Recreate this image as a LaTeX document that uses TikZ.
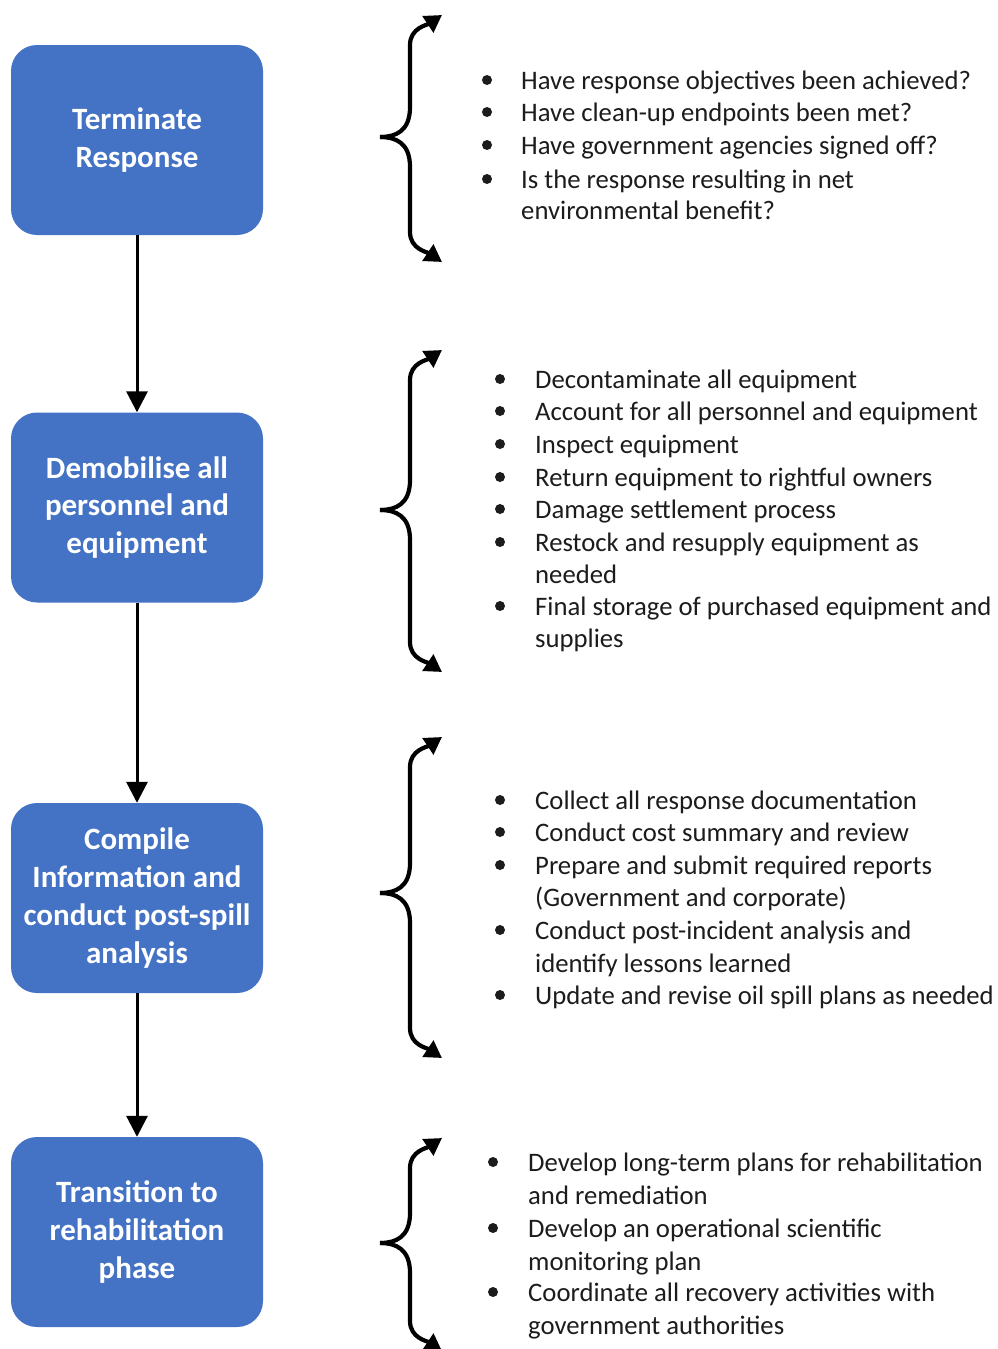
\documentclass[tikz,border=0pt]{standalone}
\usepackage{fontspec}
\setmainfont{Carlito}
\usetikzlibrary{arrows.meta}

\definecolor{stepblue}{RGB}{68,114,196}
\definecolor{bodytext}{RGB}{28,28,28}

% curly bracket with an arrow at each end: name, top y, tip y, bottom y
\newcommand\arrowbrace[4]{%
  \coordinate (#1-top) at (442,#2);
  \coordinate (#1-tip) at (380,#3);
  \coordinate (#1-bot) at (442,#4);
  \draw[bracepen] (#1-tip) .. controls (396,#3) and (410,{#3-6}) .. (410,{#3-30})
        -- (410,{#2+30}) .. controls (410,{#2+13}) and (427,{#2+10}) .. (#1-top);
  \draw[bracepen] (#1-tip) .. controls (396,#3) and (410,{#3+6}) .. (410,{#3+30})
        -- (410,{#4-30}) .. controls (410,{#4-13}) and (427,{#4-10}) .. (#1-bot);
}

\begin{document}
\begin{tikzpicture}[x=1pt,y=-1pt,
  stepbox/.style={rectangle, rounded corners=26pt, fill=stepblue, draw=none,
    minimum width=252pt, minimum height=190pt, text=white, align=center,
    font=\fontsize{31}{37.8}\selectfont\bfseries},
  flow/.style={line width=3pt, -{Triangle[width=21pt,length=21pt]}},
  bracepen/.style={line width=4.2pt, -{Triangle[width=19pt,length=17pt]}},
  itemtext/.style={anchor=base west, inner sep=0pt, text=bodytext,
    font=\fontsize{26.7}{32.6}\selectfont},
  dot/.style={circle, fill=bodytext, inner sep=0pt, minimum size=10pt}]

\useasboundingbox (0,0) rectangle (998,1349);
\fill[white] (0,0) rectangle (998,1349);

% process steps
\node[stepbox] (s1) at (137,140)   {Terminate\\Response};
\node[stepbox] (s2) at (137,507.5) {Demobilise all\\personnel and\\equipment};
\node[stepbox] (s3) at (137,898)   {Compile\\Information and\\conduct post-spill\\analysis};
\node[stepbox] (s4) at (137,1232)  {Transition to\\rehabilitation\\phase};

\draw[flow] (s1) -- (s2);
\draw[flow] (s2) -- (s3);
\draw[flow] (s3) -- (s4);

% brackets
\arrowbrace{k1}{15}{137}{262}
\arrowbrace{k2}{350}{510}{672}
\arrowbrace{k3}{737}{893}{1058}
\arrowbrace{k4}{1138}{1243}{1351}

% checklist 1
\foreach [count=\i] \y/\b/\t in {
  80/1/{Have response objectives been achieved?},
  112/1/{Have clean-up endpoints been met?},
  145/1/{Have government agencies signed off?},
  179/1/{Is the response resulting in net},
  210/0/{environmental benefit?}} {
  \node[itemtext] (a\i) at (521,{\y+9}) {\t};
  \ifnum\b=1 \node[dot] (ad\i) at (487,\y) {}; \fi
}

% checklist 2
\foreach [count=\i] \y/\b/\t in {
  379/1/{Decontaminate all equipment},
  411/1/{Account for all personnel and equipment},
  444/1/{Inspect equipment},
  477/1/{Return equipment to rightful owners},
  509/1/{Damage settlement process},
  542/1/{Restock and resupply equipment as},
  574/0/{needed},
  606/1/{Final storage of purchased equipment and},
  638/0/{supplies}} {
  \node[itemtext] (b\i) at (535,{\y+9}) {\t};
  \ifnum\b=1 \node[dot] (bd\i) at (500,\y) {}; \fi
}

% checklist 3
\foreach [count=\i] \y/\b/\t in {
  800/1/{Collect all response documentation},
  832/1/{Conduct cost summary and review},
  865/1/{Prepare and submit required reports},
  897/0/{(Government and corporate)},
  930/1/{Conduct post-incident analysis and},
  963/0/{identify lessons learned},
  995/1/{Update and revise oil spill plans as needed}} {
  \node[itemtext] (c\i) at (535,{\y+9}) {\t};
  \ifnum\b=1 \node[dot] (cd\i) at (500,\y) {}; \fi
}

% checklist 4
\foreach [count=\i] \y/\b/\t in {
  1162/1/{Develop long-term plans for rehabilitation},
  1195/0/{and remediation},
  1228/1/{Develop an operational scientific},
  1261/0/{monitoring plan},
  1292/1/{Coordinate all recovery activities with},
  1325/0/{government authorities}} {
  \node[itemtext] (d\i) at (528,{\y+9}) {\t};
  \ifnum\b=1 \node[dot] (dd\i) at (493,\y) {}; \fi
}

\end{tikzpicture}
\end{document}
